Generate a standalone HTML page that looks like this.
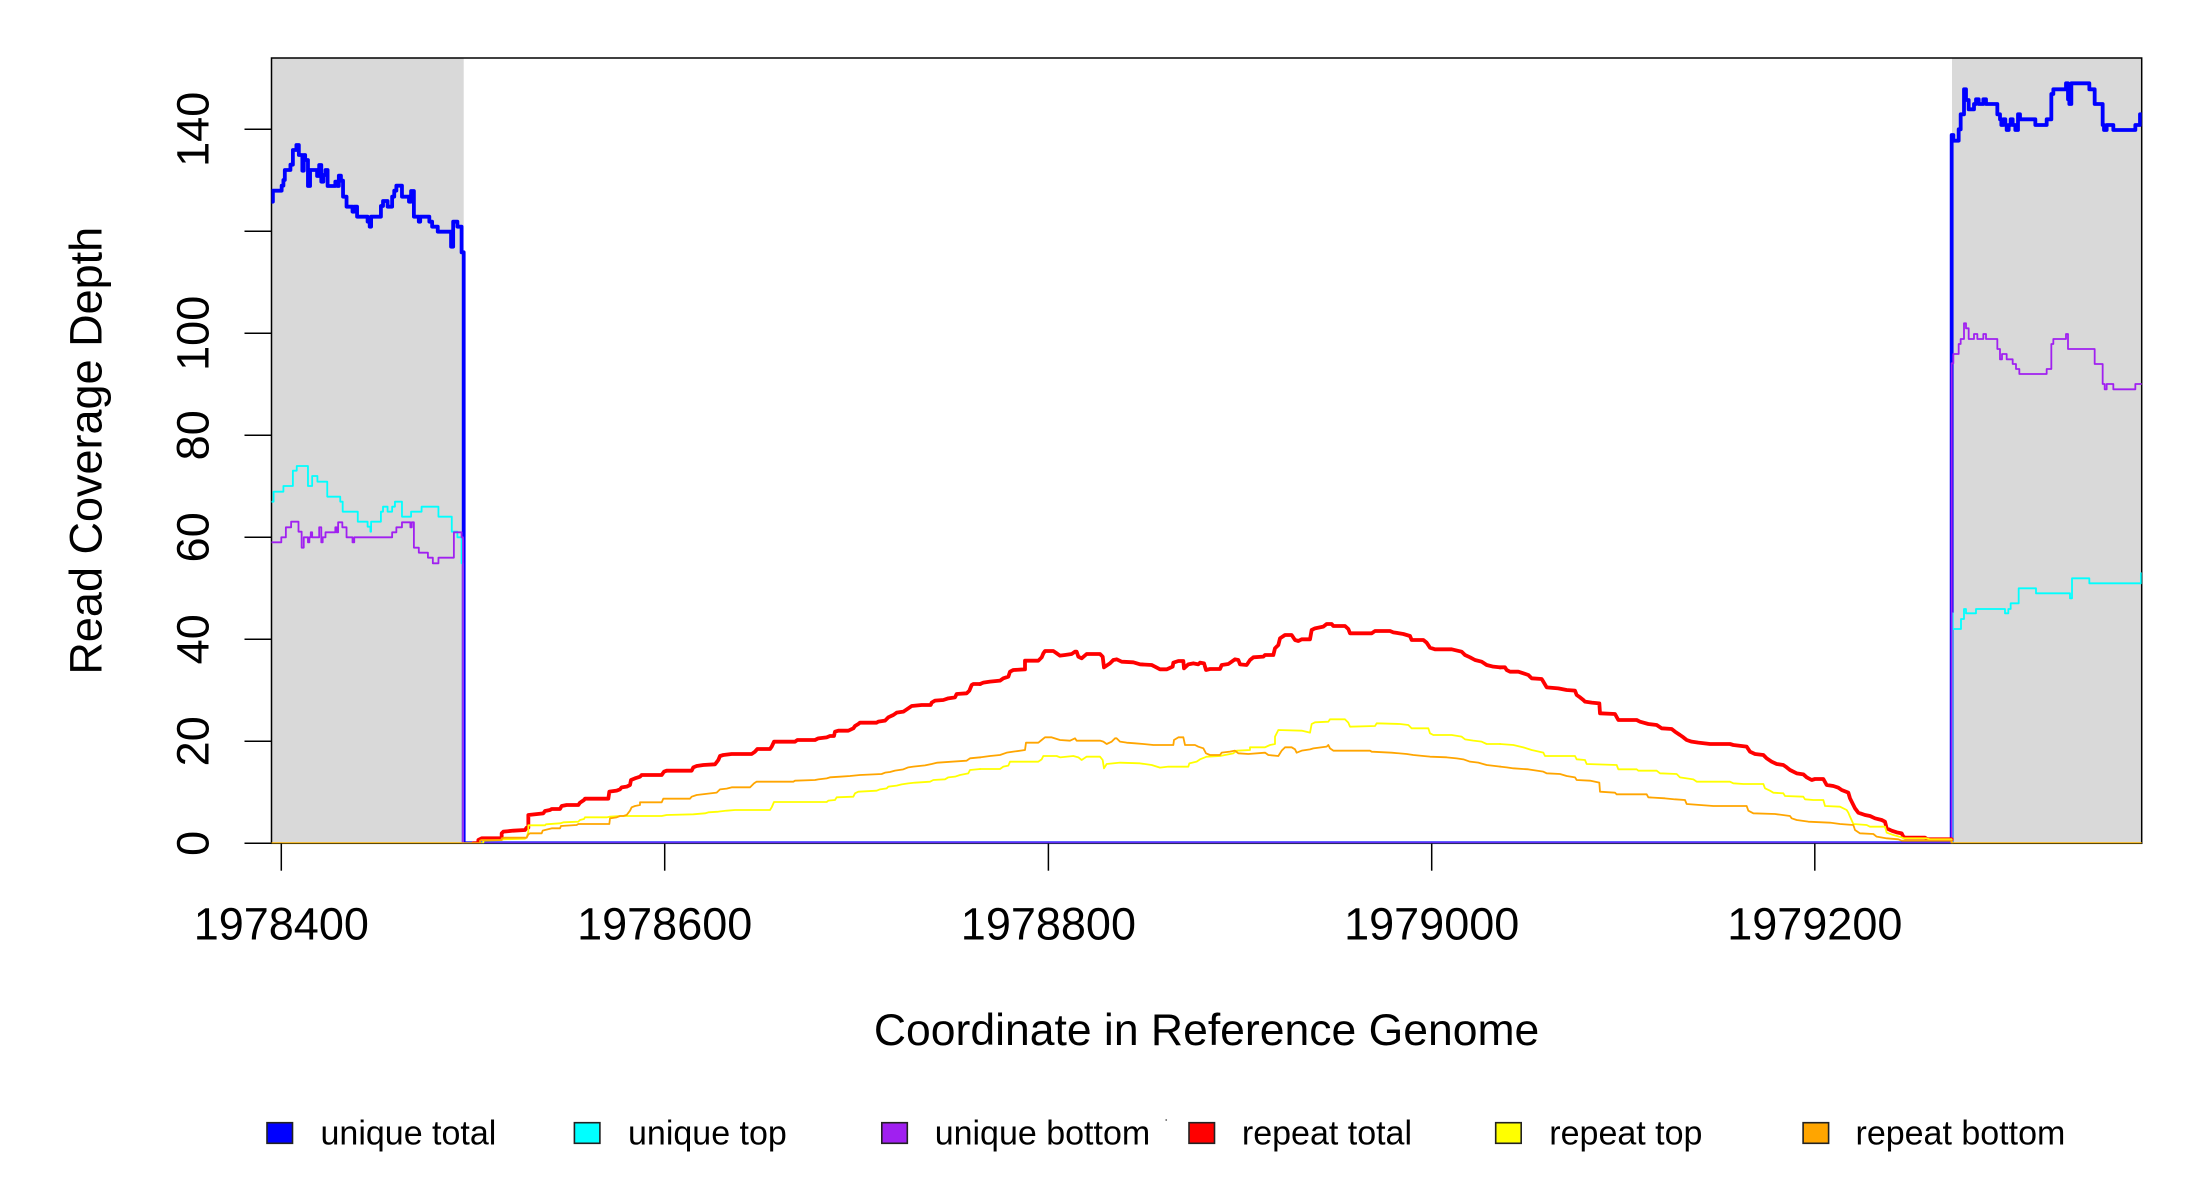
<!DOCTYPE html>
<html>
<head>
<meta charset="utf-8">
<style>
html,body{margin:0;padding:0;background:#fff;}
svg{display:block;}
text{font-family:"Liberation Sans",Arial,sans-serif;fill:#000;}
.s{fill:none;vector-effect:non-scaling-stroke;stroke-linejoin:round;stroke-linecap:round;}
.thick{stroke-width:3.8px;}
.thin{stroke-width:1.8px;}
</style>
</head>
<body>
<svg width="2200" height="1200" viewBox="0 0 2200 1200" xmlns="http://www.w3.org/2000/svg">
<rect x="0" y="0" width="2200" height="1200" fill="#fff"/>
<defs>
<clipPath id="pc"><rect x="271.5" y="58" width="1870.2" height="785.3"/></clipPath>
</defs>

<!-- shaded regions -->
<rect x="271.5" y="58" width="192.2" height="785.3" fill="#D9D9D9"/>
<rect x="1952" y="58" width="189.7" height="785.3" fill="#D9D9D9"/>

<!-- plot box -->
<rect x="271.5" y="58" width="1870.2" height="785.3" fill="none" stroke="#000" stroke-width="1.5"/>

<g clip-path="url(#pc)">
<!-- unique total (blue) -->
<g transform="translate(0,0) scale(0.350754,0.333333)">
<polyline class="s thick" stroke="#0000FF" points="774,605 778,605 778,572 803,572 803,557 808,557 808,540 812,540 812,510 828,510 828,494 835,494 835,450 845,450 845,435 852,435 852,465 862,465 862,512 866,512 866,465 870,465 870,480 878,480 878,558 884,558 884,510 904,510 904,528 910,528 910,495 916,495 916,545 922,545 922,525 928,525 928,510 934,510 934,558 956,558 956,545 962,545 962,558 966,558 966,527 972,527 972,542 978,542 978,590 988,590 988,620 1005,620 1005,635 1010,635 1010,620 1018,620 1018,650 1048,650 1048,665 1054,665 1054,680 1058,680 1058,650 1086,650 1086,618 1092,618 1092,603 1105,603 1105,620 1118,620 1118,590 1124,590 1124,572 1130,572 1130,557 1146,557 1146,590 1166,590 1166,605 1172,605 1172,573 1180,573 1180,650 1194,650 1194,665 1198,665 1198,650 1224,650 1224,665 1232,665 1232,680 1248,680 1248,695 1286,695 1286,740 1292,740 1292,665 1304,665 1304,680 1316,680 1316,757 1322,757 1322,2530"/>
</g>
<polyline class="s thick" stroke="#0000FF" points="463.7,843.3 1951.7,843.3"/>
<g transform="translate(1900,30) scale(0.333333)">
<polyline class="s thick" stroke="#0000FF" points="155,2440 155,315 160,315 160,332 176,332 176,298 182,298 182,253 192,253 192,178 198,178 198,210 206,210 206,238 222,238 222,222 228,222 228,208 236,208 236,222 250,222 250,208 258,208 258,222 292,222 292,253 300,253 300,268 304,268 304,285 310,285 310,268 316,268 316,285 320,285 320,300 326,300 326,285 332,285 332,268 338,268 338,285 346,285 346,300 354,300 354,253 360,253 360,268 406,268 406,285 440,285 440,268 454,268 454,192 460,192 460,178 498,178 498,160 504,160 504,208 508,208 508,222 514,222 514,160 568,160 568,178 584,178 584,222 608,222 608,285 612,285 612,300 620,300 620,285 640,285 640,300 706,300 706,285 720,285 720,253 730,253"/>
</g>

<!-- unique top (cyan) -->
<g transform="translate(0,450) scale(0.350754,0.333333)">
<polyline class="s thin" stroke="#00FFFF" points="774,155 780,155 780,125 808,125 808,108 835,108 835,62 846,62 846,48 878,48 878,108 890,108 890,78 905,78 905,95 933,95 933,140 970,140 970,155 977,155 977,185 1020,185 1020,215 1048,215 1048,230 1056,230 1056,245 1058,245 1058,215 1086,215 1086,185 1092,185 1092,170 1105,170 1105,185 1118,185 1118,170 1126,170 1126,155 1146,155 1146,200 1172,200 1172,185 1202,185 1202,170 1250,170 1250,200 1288,200 1288,245 1304,245 1304,262 1316,262 1316,340 1320,340 1320,1180"/>
</g>
<polyline class="s thin" stroke="#00FFFF" points="462.5,843.3 1952.3,843.3"/>
<g transform="translate(1940,560) scale(0.333333)">
<polyline class="s thin" stroke="#00FFFF" points="37,850 37,160 38,160 38,207 63,207 63,177 72,177 72,147 78,147 78,160 108,160 108,147 195,147 195,160 205,160 205,147 212,147 212,130 236,130 236,85 288,85 288,100 390,100 390,115 396,115 396,55 448,55 448,70 603,70 603,40 612,40"/>
</g>

<!-- unique bottom (purple) -->
<g transform="translate(0,450) scale(0.350754,0.333333)">
<polyline class="s thin" stroke="#A020F0" points="774,277 802,277 802,262 815,262 815,232 830,232 830,215 851,215 851,245 860,245 860,293 866,293 866,262 878,262 878,277 882,277 882,262 886,262 886,247 890,247 890,262 910,262 910,232 916,232 916,277 920,277 920,262 928,262 928,247 956,247 956,232 960,232 960,247 964,247 964,217 976,217 976,232 988,232 988,262 1005,262 1005,277 1010,277 1010,262 1118,262 1118,247 1130,247 1130,232 1146,232 1146,217 1170,217 1170,232 1174,232 1174,217 1180,217 1180,293 1194,293 1194,308 1220,308 1220,323 1234,323 1234,340 1250,340 1250,323 1294,323 1294,247 1316,247 1316,262 1320,262 1320,1180"/>
</g>
<polyline class="s thin" stroke="#A020F0" points="462.5,843.3 1951.7,843.3"/>
<g transform="translate(1900,30) scale(0.333333)">
<polyline class="s thin" stroke="#A020F0" points="155,2440 155,1000 160,1000 160,972 176,972 176,942 182,942 182,927 192,927 192,880 198,880 198,895 206,895 206,927 222,927 222,912 232,912 232,927 250,927 250,912 258,912 258,927 292,927 292,957 300,957 300,988 306,988 306,972 320,972 320,988 338,988 338,1002 348,1002 348,1017 358,1017 358,1032 440,1032 440,1017 454,1017 454,942 460,942 460,927 498,927 498,912 504,912 504,957 584,957 584,1002 608,1002 608,1062 614,1062 614,1078 620,1078 620,1062 640,1062 640,1078 706,1078 706,1062 730,1062"/>
</g>

<!-- repeat total (red) -->
<g transform="translate(460,600) scale(0.333333)">
<polyline class="s thick" stroke="#FF0000" points="40,730 55,730 55,720 65,715 125,715 125,700 130,695 160,692 195,690 200,683 205,683 205,645 250,640 255,633 270,630 275,627 300,627 305,618 320,615 355,615 360,608 372,600 375,596 445,596 448,575 470,572 480,568 485,562 500,560 510,555 513,540 525,535 540,530 545,525 605,525 612,515 620,512 695,512 700,502 710,498 730,495 765,493 775,480 780,468 790,465 815,462 875,462 885,455 892,447 930,447 935,440 942,425 1005,425 1012,420 1065,420 1075,415 1100,412 1110,408 1122,408 1125,395 1135,392 1165,392 1180,385 1185,378 1195,372 1200,368 1250,368 1255,365 1275,362 1285,352 1300,345 1310,338 1330,335 1345,325 1355,318 1385,315 1412,315 1415,308 1425,302 1450,300 1465,295 1485,292 1490,282 1520,280 1528,272 1535,255 1540,252 1561,252"/>
</g>
<g transform="translate(980,600) scale(0.333333)">
<polyline class="s thick" stroke="#FF0000" points="0,252 10,248 30,245 60,242 70,235 85,230 90,215 100,210 135,208 135,182 175,182 185,172 190,160 195,153 220,153 230,160 240,167 255,165 275,162 285,155 290,155 295,170 305,175 320,162 360,162 368,170 372,202 390,190 400,180 410,178 425,185 460,187 480,193 515,195 525,200 540,208 560,208 578,200 580,188 595,183 610,183 612,205 625,193 640,190 655,193 660,188 672,190 678,210 690,207 720,207 725,195 745,192 755,185 765,178 775,180 780,193 800,195 810,180 820,172 850,170 855,165 880,165 885,145 895,135 900,115 915,105 935,105 945,120 955,123 965,118 990,118 995,90 1005,85 1030,80 1040,72 1055,72 1060,78 1095,78 1105,87 1110,100 1175,100 1185,93 1230,93 1240,97 1270,102 1290,108 1295,120 1330,120 1340,128 1350,143 1365,148 1415,148 1445,155 1455,165 1470,172 1485,180 1505,185 1520,195 1540,200 1561,202"/>
</g>
<g transform="translate(1500,600) scale(0.333333)">
<polyline class="s thick" stroke="#FF0000" points="0,202 15,202 20,210 30,215 55,215 70,220 85,225 95,235 125,237 130,245 140,262 175,265 200,270 225,272 230,285 240,292 250,300 255,305 275,308 298,310 300,340 345,342 355,360 410,360 420,365 445,372 470,375 485,385 515,387 525,395 540,405 550,412 560,420 575,425 595,428 630,432 690,432 700,435 740,440 750,455 765,462 790,465 800,475 815,485 830,492 850,495 860,502 870,510 890,520 910,523 920,532 935,540 945,537 970,537 980,555 1000,558 1015,563 1025,570 1045,578 1050,595 1065,625 1075,638 1095,645 1110,648 1125,655 1145,660 1155,665 1160,685 1175,692 1190,697 1205,700 1210,710 1215,713 1275,713 1282,718 1355,718"/>
</g>

<!-- repeat top (yellow) -->
<g transform="translate(460,600) scale(0.333333)">
<polyline class="s thin" stroke="#FFFF00" points="-566,730 70,730 70,722 125,720 130,718 195,716 200,712 205,695 205,676 255,676 258,673 300,670 310,667 355,665 360,660 372,657 375,652 440,652 450,650 480,648 605,648 620,645 700,643 735,640 745,637 775,635 800,632 825,630 930,630 935,622 942,606 1100,606 1105,602 1125,600 1130,592 1180,590 1185,580 1195,575 1250,572 1260,568 1280,565 1285,560 1310,557 1325,553 1345,550 1365,548 1410,545 1420,540 1455,538 1465,532 1485,530 1500,525 1525,520 1530,510 1561,507"/>
</g>
<g transform="translate(980,600) scale(0.333333)">
<polyline class="s thin" stroke="#FFFF00" points="0,507 60,507 70,500 85,497 90,485 175,485 185,478 190,468 230,468 240,472 280,468 295,472 305,480 320,470 360,470 368,480 372,505 380,492 420,488 480,490 515,495 540,503 565,500 625,500 628,490 650,485 660,478 680,470 720,468 760,460 770,452 810,450 810,442 855,442 870,435 885,432 885,410 895,390 965,392 990,398 995,372 1005,367 1045,365 1050,358 1095,358 1105,368 1110,380 1185,378 1190,370 1260,372 1285,375 1295,385 1345,385 1350,400 1360,405 1415,405 1445,410 1455,418 1480,422 1505,425 1520,432 1561,432"/>
</g>
<g transform="translate(1500,600) scale(0.333333)">
<polyline class="s thin" stroke="#FFFF00" points="0,432 40,435 70,442 95,450 130,458 135,468 225,468 230,478 255,480 260,492 350,495 355,508 410,508 415,512 470,512 480,520 530,522 540,532 580,538 590,545 690,545 700,550 730,552 790,552 795,565 810,572 820,578 850,580 855,588 910,590 915,598 940,600 970,600 975,618 1020,620 1040,630 1045,638 1050,650 1060,672 1100,675 1110,680 1155,680 1160,698 1180,705 1205,712 1210,715 1280,715 1290,718 1355,718 1355,730 1930,730"/>
</g>

<!-- repeat bottom (orange) -->
<g transform="translate(460,600) scale(0.333333)">
<polyline class="s thin" stroke="#FFA500" points="-566,730 60,730 60,722 65,720 125,720 125,715 135,713 200,713 205,703 210,700 245,700 248,692 255,690 275,685 300,685 303,678 350,675 355,672 448,672 450,655 470,652 480,648 490,648 500,645 510,632 515,622 525,618 540,615 540,607 605,607 610,596 690,596 695,590 710,585 770,578 780,568 800,566 815,562 870,562 882,550 890,545 1000,545 1005,542 1065,540 1075,538 1100,535 1110,532 1140,530 1170,528 1200,525 1265,522 1275,518 1290,516 1305,512 1330,508 1345,502 1360,500 1395,496 1415,492 1432,488 1520,482 1530,475 1561,472"/>
</g>
<g transform="translate(980,600) scale(0.333333)">
<polyline class="s thin" stroke="#FFA500" points="0,472 30,468 60,465 80,458 100,455 135,450 138,428 175,428 185,420 195,412 215,412 240,420 270,422 285,415 290,422 360,422 370,425 380,432 395,425 405,415 410,415 420,425 440,428 465,430 490,432 520,435 580,435 582,420 595,412 610,412 615,435 645,435 655,440 670,445 678,460 690,465 720,465 725,458 750,455 765,452 775,460 805,462 855,458 865,465 895,468 905,452 915,442 935,442 945,448 950,458 965,452 990,448 1000,445 1040,440 1045,435 1050,445 1060,452 1170,452 1175,455 1235,458 1280,462 1300,465 1330,468 1350,470 1400,472 1430,475 1450,478 1470,485 1495,488 1520,495 1561,500"/>
</g>
<g transform="translate(1500,600) scale(0.333333)">
<polyline class="s thin" stroke="#FFA500" points="0,500 20,502 40,505 85,508 130,515 140,520 180,522 200,528 225,532 230,540 270,542 298,548 300,575 345,578 350,583 440,583 445,592 495,595 525,598 555,600 560,612 600,615 640,618 740,618 745,632 760,640 825,642 870,648 875,655 890,660 925,665 990,668 1020,672 1060,675 1065,690 1080,700 1120,702 1130,710 1160,715 1195,718 1205,722 1355,722 1355,730 1930,730"/>
</g>
</g>

<!-- y axis ticks -->
<g stroke="#000" stroke-width="1.5">
<line x1="244.5" y1="843.3" x2="271.5" y2="843.3"/>
<line x1="244.5" y1="741.3" x2="271.5" y2="741.3"/>
<line x1="244.5" y1="639.3" x2="271.5" y2="639.3"/>
<line x1="244.5" y1="537.3" x2="271.5" y2="537.3"/>
<line x1="244.5" y1="435.3" x2="271.5" y2="435.3"/>
<line x1="244.5" y1="333.3" x2="271.5" y2="333.3"/>
<line x1="244.5" y1="231.3" x2="271.5" y2="231.3"/>
<line x1="244.5" y1="129.3" x2="271.5" y2="129.3"/>
</g>
<g font-size="45" text-anchor="middle">
<text transform="translate(208.5,843.3) rotate(-90)">0</text>
<text transform="translate(208.5,741.3) rotate(-90)">20</text>
<text transform="translate(208.5,639.3) rotate(-90)">40</text>
<text transform="translate(208.5,537.3) rotate(-90)">60</text>
<text transform="translate(208.5,435.3) rotate(-90)">80</text>
<text transform="translate(208.5,333.3) rotate(-90)">100</text>
<text transform="translate(208.5,129.3) rotate(-90)">140</text>
</g>

<!-- x axis ticks -->
<g stroke="#000" stroke-width="1.5">
<line x1="281.3" y1="843.3" x2="281.3" y2="870.7"/>
<line x1="664.7" y1="843.3" x2="664.7" y2="870.7"/>
<line x1="1048.4" y1="843.3" x2="1048.4" y2="870.7"/>
<line x1="1431.7" y1="843.3" x2="1431.7" y2="870.7"/>
<line x1="1814.8" y1="843.3" x2="1814.8" y2="870.7"/>
</g>
<g font-size="45" text-anchor="middle">
<text x="281.3" y="939.3">1978400</text>
<text x="664.7" y="939.3">1978600</text>
<text x="1048.4" y="939.3">1978800</text>
<text x="1431.7" y="939.3">1979000</text>
<text x="1814.8" y="939.3">1979200</text>
</g>

<!-- axis titles -->
<text x="1206.6" y="1045" font-size="44.5" text-anchor="middle">Coordinate in Reference Genome</text>
<text transform="translate(101.7,450.7) rotate(-90)" font-size="45" text-anchor="middle">Read Coverage Depth</text>

<!-- legend -->
<g stroke="#222" stroke-width="1.6">
<rect x="267" y="1122.7" width="25.5" height="20.6" fill="#0000FF"/>
<rect x="574.4" y="1122.7" width="25.5" height="20.6" fill="#00FFFF"/>
<rect x="881.8" y="1122.7" width="25.5" height="20.6" fill="#A020F0"/>
<rect x="1189" y="1122.7" width="25.5" height="20.6" fill="#FF0000"/>
<rect x="1495.7" y="1122.7" width="25.5" height="20.6" fill="#FFFF00"/>
<rect x="1803.1" y="1122.7" width="25.5" height="20.6" fill="#FFA500"/>
</g>
<g font-size="34">
<text x="320.5" y="1144.3">unique total</text>
<text x="628" y="1144.3">unique top</text>
<text x="934.7" y="1144.3">unique bottom</text>
<text x="1241.9" y="1144.3">repeat total</text>
<text x="1549.3" y="1144.3">repeat top</text>
<text x="1855.5" y="1144.3">repeat bottom</text>
</g>
<circle cx="1166.2" cy="1120" r="0.9" fill="#555"/>
</svg>
</body>
</html>
